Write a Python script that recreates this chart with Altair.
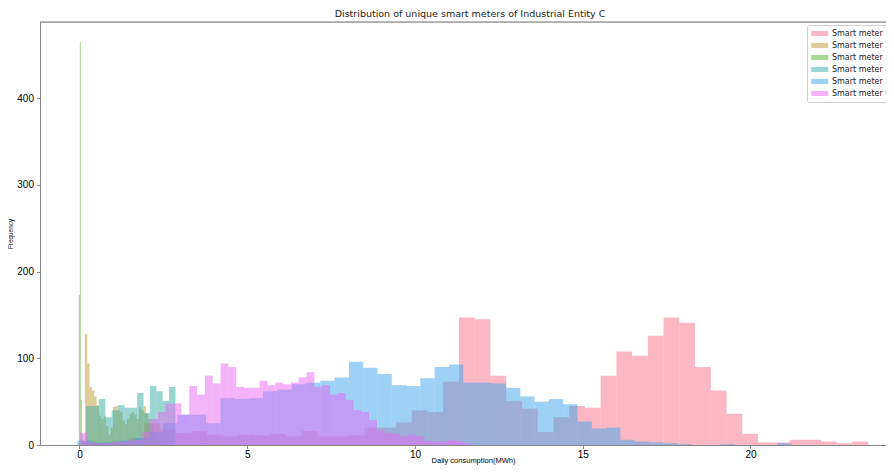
import altair as alt
import pandas as pd

series = ["Smart meter 1", "Smart meter 2", "Smart meter 3",
          "Smart meter 4", "Smart meter 5", "Smart meter 6"]
colors = ["#f77189", "#bb9832", "#50b131", "#36ada4", "#3ba3ec", "#e866f4"]

# histogram of each meter: first bin edge, bin width, counts per bin
pink_start, pink_width = 0.05, 0.4692
pink_counts = [4, 3, 5, 8, 25, 18, 14, 16, 12, 10,
               12, 11, 13, 10, 16, 10, 10, 11, 20, 20,
               26, 40, 38, 73, 147, 145, 80, 51, 42, 15,
               32, 45, 43, 80, 108, 103, 126, 147, 141, 90,
               63, 36, 13, 3, 3, 6, 6, 4, 2, 4]

tan_start, tan_width = 0.16, 0.07
tan_counts = [128, 94, 67, 63, 56, 46, 34, 30, 33, 22,
              12, 20, 44, 45, 40, 38, 28, 24, 30, 36,
              38, 35, 30, 44, 40, 45, 36, 30, 22, 15,
              8, 5, 3]

green_start, green_width = -0.02, 0.03
green_counts = [173, 465, 52, 12, 6, 4, 3, 2, 1, 1]

teal_start, teal_width = 0.2, 0.19
teal_counts = [45, 45, 53, 32, 40, 46, 43, 43, 60, 37, 68, 62, 51, 67]

blue_start, blue_width = -0.06, 0.4258
blue_counts = [5, 3, 3, 5, 8, 15, 25, 35, 35, 25,
               54, 53, 54, 62, 64, 70, 72, 74, 78, 96,
               89, 82, 69, 68, 77, 90, 93, 72, 72, 71,
               66, 56, 50, 53, 47, 27, 19, 20, 6, 4,
               3, 2, 1, 0, 0, 1, 0, 0, 0, 2]

magenta_start, magenta_width = 0.01, 0.233
magenta_counts = [14, 3, 2, 2, 3, 4, 5, 6, 15, 30,
                  38, 48, 48, 35, 68, 58, 80, 71, 94, 90,
                  67, 66, 66, 74, 69, 72, 70, 72, 78, 84,
                  67, 69, 58, 60, 52, 40, 38, 29, 17, 14,
                  13, 10, 12, 10, 5, 4, 4, 6, 4, 2]

hists = [
    (pink_start, pink_width, pink_counts),
    (tan_start, tan_width, tan_counts),
    (green_start, green_width, green_counts),
    (teal_start, teal_width, teal_counts),
    (blue_start, blue_width, blue_counts),
    (magenta_start, magenta_width, magenta_counts),
]

rows = []
for order, (name, (start, width, counts)) in enumerate(zip(series, hists)):
    for i, c in enumerate(counts):
        rows.append({"series": name, "order": order,
                     "x0": start + i * width, "x1": start + (i + 1) * width,
                     "count": c, "zero": 0})
df = pd.DataFrame(rows)

FONT = "DejaVu Sans"
W, H = 846, 423

bars = alt.Chart(df).mark_rect(opacity=0.5).encode(
    x=alt.X("x0:Q",
            scale=alt.Scale(domain=[-1.177, 24.039], nice=False, zero=False),
            axis=alt.Axis(values=[0, 5, 10, 15, 20], title="Daily consumption(MWh)",
                          grid=False, tickSize=3.5, labelPadding=1,
                          titleX=433, titleY=17, titleBaseline="alphabetic",
                          titleFontWeight="normal", titleFontSize=7.5)),
    x2="x1:Q",
    y=alt.Y("count:Q",
            scale=alt.Scale(domain=[0, 488], nice=False),
            axis=alt.Axis(values=[0, 100, 200, 300, 400], title="Frequency",
                          grid=False, tickSize=3.5, labelPadding=3, titlePadding=3,
                          titleFontWeight="normal", titleFontSize=6.4)),
    y2="zero:Q",
    color=alt.Color("series:N", sort=series,
                    scale=alt.Scale(domain=series, range=colors),
                    legend=alt.Legend(title=None, orient="none", legendX=767, legendY=3,
                                      symbolType="M-1,-0.6H3V0.6H-1Z", symbolSize=72,
                                      symbolOpacity=0.5, symbolStrokeWidth=0,
                                      labelOffset=12, rowPadding=3.0,
                                      labelFont=FONT, labelFontSize=8, labelColor="#222",
                                      fillColor="white", strokeColor="#d0d0d0",
                                      padding=4, cornerRadius=2, labelLimit=0)),
    order=alt.Order("order:Q"),
)

frame_top = alt.Chart(pd.DataFrame({"a": [0]})).mark_rule(color="#777", strokeWidth=1).encode(
    x=alt.value(0), x2=alt.value(W), y=alt.value(0)
)

chart = alt.layer(bars, frame_top).properties(
    width=W, height=H,
    title=alt.Title("Distribution of unique smart meters of Industrial Entity C",
                    font=FONT, fontSize=9.5, fontWeight="normal", color="#222",
                    anchor="middle", offset=3, dx=7),
    autosize=alt.AutoSizeParams(type="none"),
    padding={"left": 32, "top": 14, "right": 0, "bottom": 20},
).configure_view(stroke=None).configure_axis(
    labelFont=FONT, titleFont=FONT, labelFontSize=6.9, titleFontSize=6.5,
    titleFontWeight="normal", labelColor="#222", titleColor="#222",
    domainColor="#777", tickColor="#777",
).configure(background="white")

chart.save("out.html", embed_options={"renderer": "svg", "actions": False})
